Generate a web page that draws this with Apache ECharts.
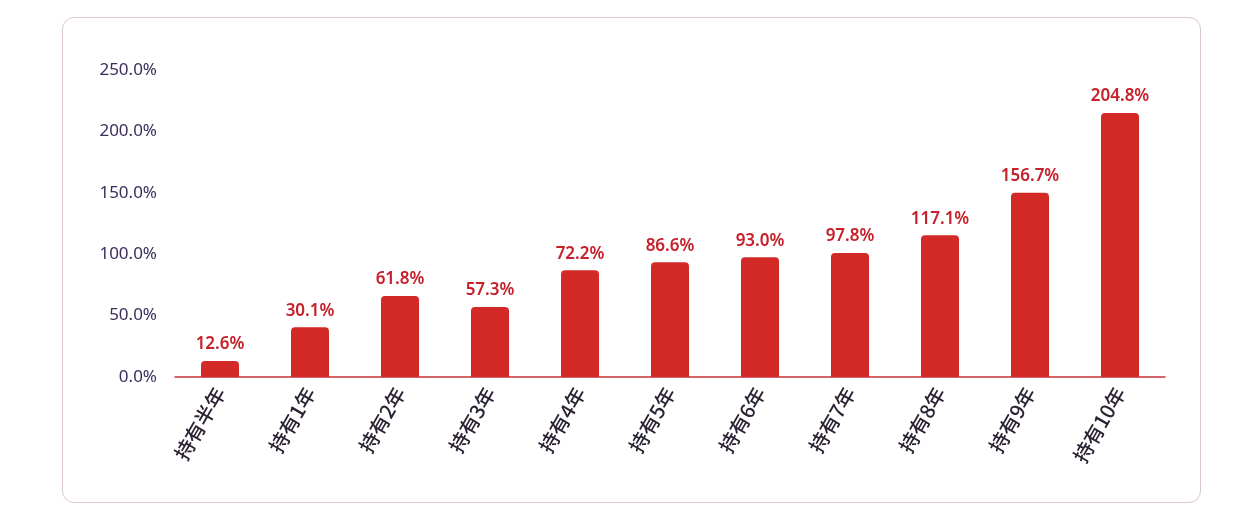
<!DOCTYPE html>
<html><head><meta charset="utf-8">
<script src="https://cdn.jsdelivr.net/npm/echarts@6/dist/echarts.min.js"></script>
<style>
html,body{margin:0;padding:0;background:#fff;}
#box{position:absolute;left:62px;top:17px;width:1137px;height:484px;border:1px solid #d9c6d6;border-radius:12px;}
#chart{position:absolute;left:0;top:0;width:1250px;height:520px;}
</style></head>
<body>
<div id="box"></div>
<div id="chart"></div>
<script>
const categories = ['持有半年','持有1年','持有2年','持有3年','持有4年','持有5年','持有6年','持有7年','持有8年','持有9年','持有10年'];
// bar heights as drawn in the picture
const barValues = [13, 40.5, 66, 57, 87, 93.5, 97.5, 101, 115.5, 150, 215];
// labels printed above the bars
const barLabels = ['12.6%','30.1%','61.8%','57.3%','72.2%','86.6%','93.0%','97.8%','117.1%','156.7%','204.8%'];
const yTicks = [0, 50, 100, 150, 200, 250];

const chart = echarts.init(document.getElementById('chart'));
chart.setOption({
  grid: { left: 175, right: 85, top: 70, bottom: 143 },
  xAxis: {
    type: 'category',
    data: categories,
    axisLine: { lineStyle: { color: '#c8303a', width: 1.5 } },
    axisTick: { show: false },
    axisLabel: {
      rotate: 60, color: '#2b2233', fontSize: 20, margin: 12,
      fontFamily: 'Noto Sans CJK SC', fontWeight: 500
    }
  },
  yAxis: {
    type: 'value',
    min: yTicks[0], max: yTicks[yTicks.length - 1], interval: 50,
    splitLine: { show: false },
    axisLine: { show: false },
    axisTick: { show: false },
    axisLabel: {
      color: '#3b2d5c', fontSize: 17, margin: 18,
      fontFamily: 'Noto Sans',
      formatter: v => v.toFixed(1) + '%'
    }
  },
  series: [{
    type: 'bar',
    data: barValues,
    barWidth: 38,
    itemStyle: { color: '#d42a27', borderRadius: [4, 4, 0, 0] },
    label: {
      show: true, position: 'top', distance: 8,
      color: '#c6202a', fontSize: 17, fontFamily: 'Noto Sans', fontWeight: 600,
      formatter: p => barLabels[p.dataIndex]
    }
  }]
});
</script>
</body></html>
